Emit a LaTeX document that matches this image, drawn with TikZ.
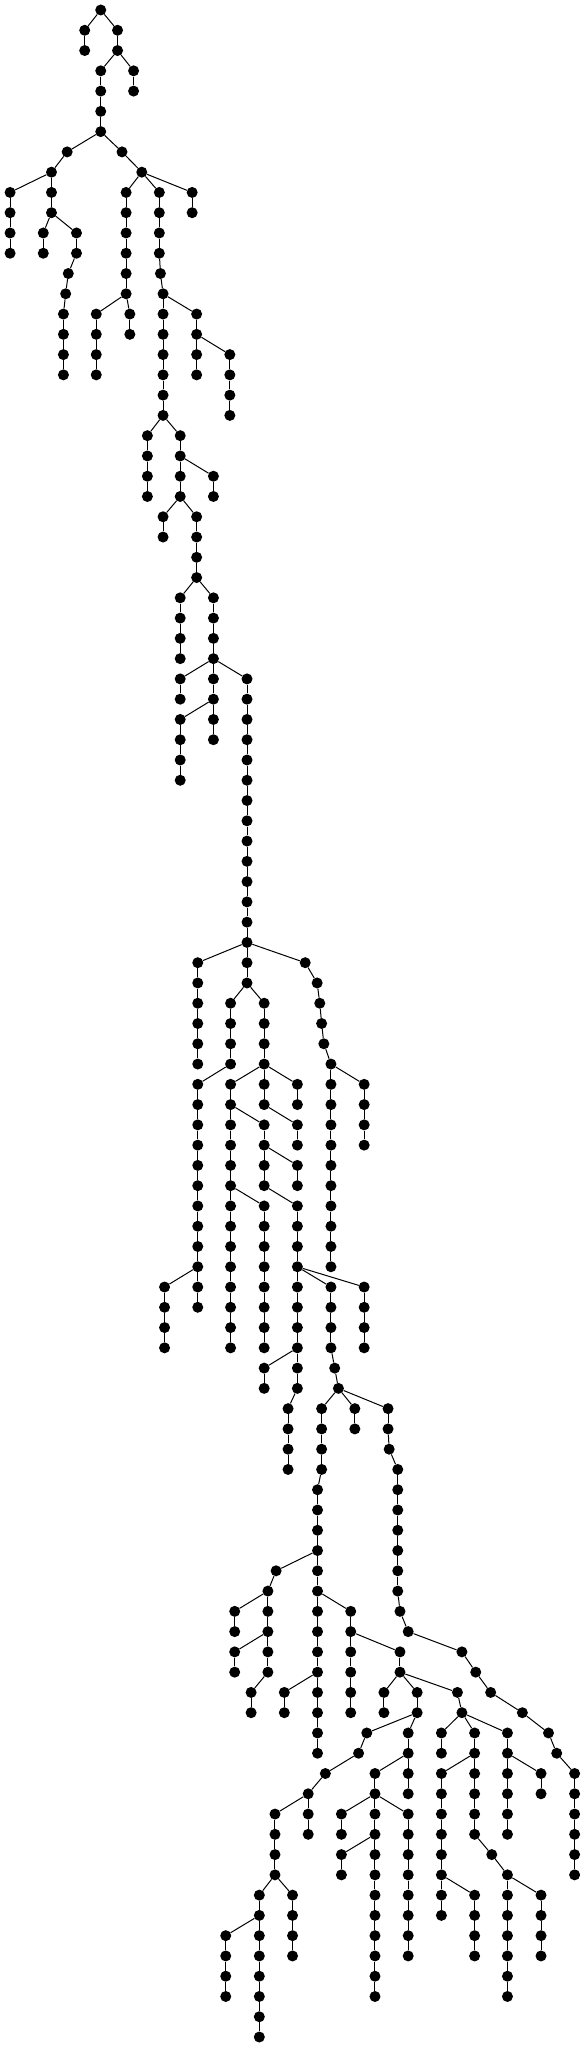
\documentclass[tikz,border=0pt]{standalone}
\begin{document}
\begin{tikzpicture}[x=0.37313pt, y=-20.27pt,
	vertex/.style={circle, fill=black, inner sep=0pt, minimum size=11pt},
	edge/.style={line width=1pt}]
	\useasboundingbox (0pt,10pt) rectangle (586pt,-2037pt);
	\node[vertex] (n0-270) at (270,0) {};
	% level/{x/parent x, ...}
	\foreach \l/\kids in {
			1/{227/270,315/270}, 2/{227/227,315/315}, 3/{270/315,358/315},
			4/{270/270,358/358}, 5/{270/270}, 6/{270/270},
			7/{180/270,327/270}, 8/{138/180,380/327},
			9/{27/138,138/138,338/380,427/380,515/380},
			10/{27/27,138/138,338/338,427/427,515/515},
			11/{27/27,116/138,205/138,338/338,427/427},
			12/{27/27,116/116,205/205,338/338,427/427},
			13/{183/205,338/338,430/427}, 14/{176/183,338/338,437/430},
			15/{170/176,258/338,348/338,437/437,527/437},
			16/{170/170,258/258,348/348,437/437,527/527},
			17/{170/170,258/258,437/437,527/527,616/527},
			18/{170/170,258/258,437/437,527/527,616/616},
			19/{437/437,616/616}, 20/{437/437,616/616},
			21/{395/437,483/437}, 22/{395/395,483/483},
			23/{395/395,483/483,572/483}, 24/{395/395,483/483,572/572},
			25/{437/483,527/483}, 26/{437/437,527/527}, 27/{527/527}, 28/{527/527},
			29/{483/527,572/527}, 30/{483/483,572/572}, 31/{483/483,572/572},
			32/{483/483,572/572}, 33/{483/572,572/572,662/572},
			34/{483/483,572/572,662/662}, 35/{483/572,572/572,662/662},
			36/{483/483,572/572,662/662}, 37/{483/483,662/662}, 38/{483/483,662/662},
			39/{662/662}, 40/{662/662}, 41/{662/662}, 42/{662/662},
			43/{662/662}, 44/{662/662}, 45/{662/662}, 46/{662/662},
			47/{530/662,662/662,818/662}, 48/{530/530,662/662,850/818},
			49/{530/530,618/662,708/662,857/850},
			50/{530/530,618/618,708/708,862/857},
			51/{530/530,618/618,708/708,868/862},
			52/{530/530,618/618,708/708,887/868},
			53/{530/618,618/708,708/708,797/708,887/887,976/887},
			54/{530/530,618/618,708/708,797/797,887/887,976/976},
			55/{530/530,618/618,708/618,797/708,887/887,976/976},
			56/{530/530,618/618,708/708,797/797,887/887,976/976},
			57/{530/530,618/618,708/708,797/708,887/887},
			58/{530/530,618/618,708/708,797/797,887/887},
			59/{530/530,618/618,708/618,797/708,887/887},
			60/{530/530,618/618,708/708,797/797,887/887},
			61/{530/530,618/618,708/708,797/797,887/887},
			62/{530/530,618/618,708/708,797/797,887/887},
			63/{441/530,530/530,618/618,708/708,797/797,887/797,976/797},
			64/{441/441,530/530,618/618,708/708,797/797,887/887,976/976},
			65/{441/441,618/618,708/708,797/797,887/887,976/976},
			66/{441/441,618/618,708/708,797/797,887/887,976/976},
			67/{708/797,797/797,897/887}, 68/{708/708,797/797,907/897},
			69/{772/797,862/907,951/907,1040/907},
			70/{772/772,862/862,951/951,1040/1040},
			71/{772/772,862/862,1043/1040}, 72/{772/772,862/862,1066/1043},
			73/{851/862,1066/1066}, 74/{851/851,1066/1066},
			75/{851/851,1066/1066}, 76/{851/851,1066/1066},
			77/{740/851,851/851,1066/1066}, 78/{718/740,851/851,1066/1066},
			79/{629/718,718/718,851/851,940/851,1072/1066},
			80/{629/629,718/718,851/851,940/940,1094/1072},
			81/{629/718,718/718,851/851,940/940,1072/940,1238/1094},
			82/{629/629,718/718,851/851,940/940,1072/1072,1275/1238},
			83/{673/718,762/851,851/851,940/940,1029/1072,1118/1072,1226/1072,1315/1275},
			84/{673/673,762/762,851/851,940/940,1029/1029,1118/1118,1238/1226,1400/1315},
			85/{851/851,983/1118,1094/1118,1183/1238,1272/1238,1360/1238,1470/1400},
			86/{851/851,961/983,1094/1094,1183/1183,1272/1272,1360/1360,1492/1470},
			87/{872/961,1005/1094,1094/1094,1183/1272,1272/1272,1360/1360,1450/1360,1540/1492},
			88/{826/872,1005/1005,1094/1094,1183/1183,1272/1272,1360/1360,1450/1450,1540/1540},
			89/{737/826,826/826,915/1005,1005/1005,1094/1005,1183/1183,1272/1272,1360/1360,1540/1540},
			90/{737/737,826/826,915/915,1005/1005,1094/1094,1183/1183,1272/1272,1360/1360,1540/1540},
			91/{737/737,915/1005,1005/1005,1094/1094,1183/1183,1318/1272,1540/1540},
			92/{737/737,915/915,1005/1005,1094/1094,1183/1183,1360/1318,1540/1540},
			93/{695/737,784/737,1005/1005,1094/1094,1183/1183,1272/1183,1360/1360,1450/1360},
			94/{695/695,784/784,1005/1005,1094/1094,1183/1183,1272/1272,1360/1360,1450/1450},
			95/{605/695,695/695,784/784,1005/1005,1094/1094,1272/1272,1360/1360,1450/1450},
			96/{605/605,695/695,784/784,1005/1005,1094/1094,1272/1272,1360/1360,1450/1450},
			97/{605/605,695/695,1005/1005,1360/1360},
			98/{605/605,695/695,1005/1005,1360/1360},
			99/{695/695}, 100/{695/695}}{
			\pgfmathtruncatemacro\pl{\l-1}
			\foreach \x/\p in \kids{
					\node[vertex] (n\l-\x) at (\x,\l) {};
					\draw[edge] (n\pl-\p) -- (n\l-\x);
				}
		}
\end{tikzpicture}
\end{document}
